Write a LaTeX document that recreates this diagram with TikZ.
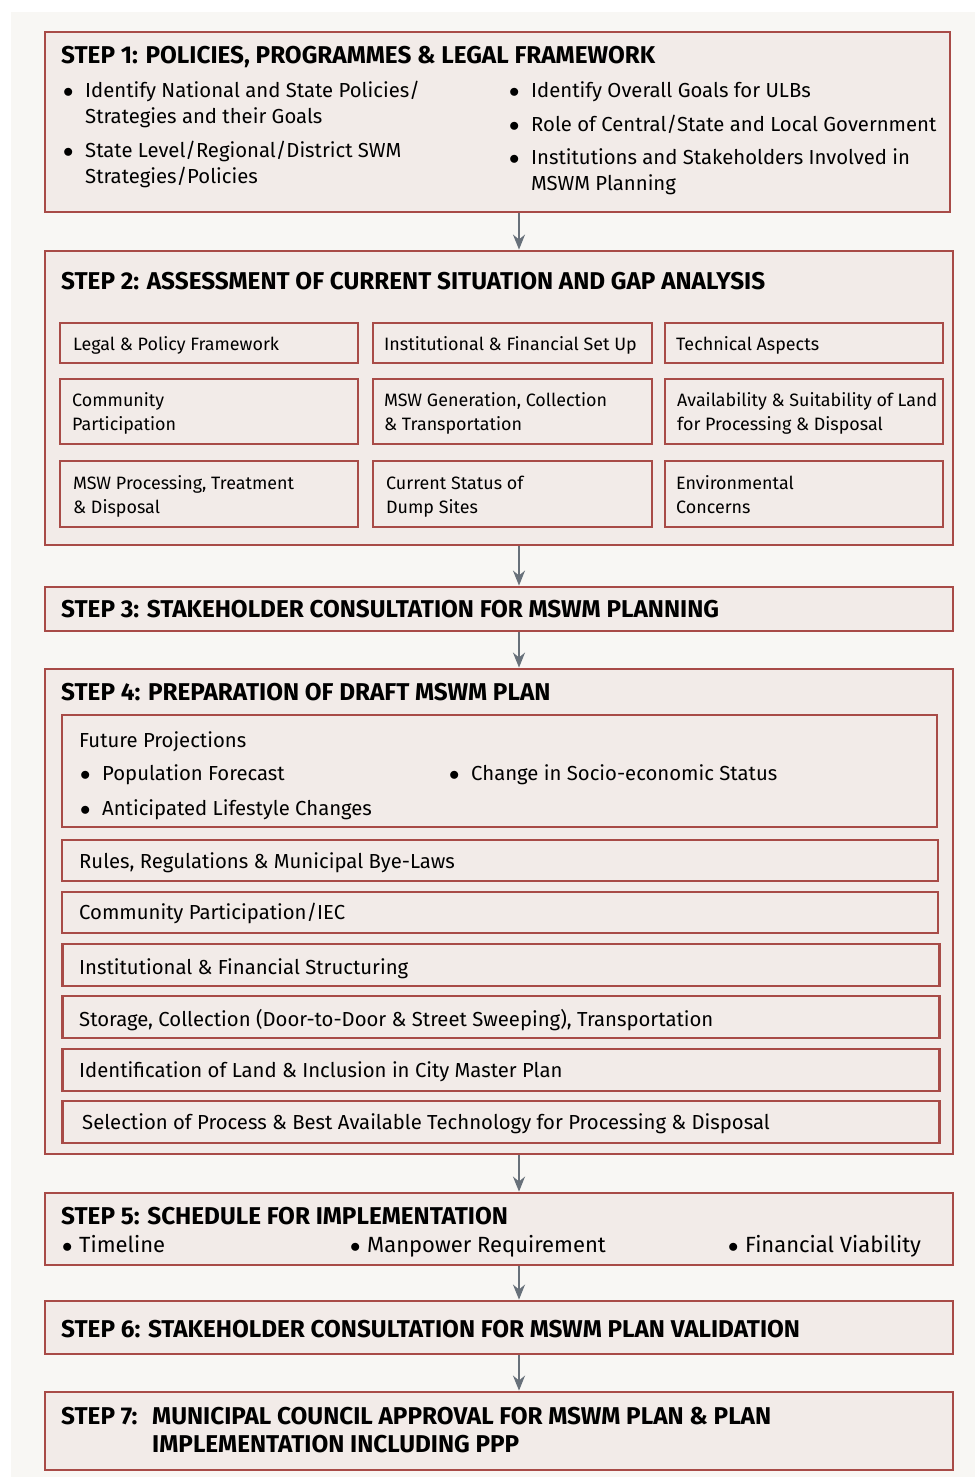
\documentclass[tikz,border=0pt]{standalone}
\usepackage{fontspec}
\setmainfont{Fira Sans}
\usepackage{tikz}
\usetikzlibrary{arrows,arrows.meta,positioning,calc}

\definecolor{boxred}{HTML}{A84B47}
\definecolor{boxfill}{HTML}{F2EBE8}
\definecolor{pagebg}{HTML}{F8F7F4}
\definecolor{arrowgray}{HTML}{68717A}

\newcommand{\titlefont}{\fontsize{24.3}{28}\selectfont\bfseries}
\newcommand{\bodyfont}{\fontsize{20.3}{26}\selectfont}
\newcommand{\cellfont}{\fontsize{17.9}{24}\selectfont}
\newcommand{\schedfont}{\fontsize{22}{26}\selectfont}
% bullet with hanging lines
\newcommand{\bul}[1]{\makebox[22pt][l]{$\bullet$}\begin{tabular}[t]{@{}l@{}}#1\end{tabular}}
\newcommand{\sbul}[1]{\makebox[17pt][l]{$\bullet$}#1}

\begin{document}
\begin{tikzpicture}[
    x=1pt, y=-1pt,
    stepbox/.style={rectangle, draw=boxred, fill=boxfill, line width=2.8pt, inner sep=0pt},
    cell/.style={rectangle, draw=boxred, line width=2.8pt, inner sep=0pt},
    steptitle/.style={anchor=base west, inner sep=0pt, font=\titlefont},
    item/.style={anchor=base west, inner sep=0pt, font=\bodyfont, align=left},
    celltext/.style={anchor=base west, inner sep=0pt, font=\cellfont, align=left},
    arrow/.style={-{Stealth[length=15pt,width=12pt]}, line width=2pt, draw=arrowgray, fill=arrowgray}
]
    \useasboundingbox (0,0) rectangle (975,1479);
    \fill[pagebg] (11,12) rectangle (975,1477);
    \coordinate (ax) at (519,0);

    % Step 1
    \node[stepbox, minimum width=905pt, minimum height=180pt] (s1) at (497.5,122) {};
    \node[steptitle] (t1) at (61,64) {STEP 1: POLICIES, PROGRAMMES \& LEGAL FRAMEWORK};
    \node[item] (s1a) at (63,98) {\bul{Identify National and State Policies/\\Strategies and their Goals}};
    \node[item] (s1b) at (63,158) {\bul{State Level/Regional/District SWM\\Strategies/Policies}};
    \node[item] (s1c) at (509,98) {\bul{Identify Overall Goals for ULBs}};
    \node[item] (s1d) at (509,132) {\bul{Role of Central/State and Local Government}};
    \node[item] (s1e) at (509,165) {\bul{Institutions and Stakeholders Involved in\\MSWM Planning}};

    % Step 2
    \node[stepbox, minimum width=908pt, minimum height=294pt] (s2) at (499,398) {};
    \node[steptitle] (t2) at (61,289) {STEP 2: ASSESSMENT OF CURRENT SITUATION AND GAP ANALYSIS};
    \node[cell, minimum width=298pt, minimum height=40pt] (c11) at (209,343) {};
    \node[cell, minimum width=279pt, minimum height=40pt] (c12) at (512.5,343) {};
    \node[cell, minimum width=278pt, minimum height=40pt] (c13) at (804,343) {};
    \node[cell, minimum width=298pt, minimum height=65pt] (c21) at (209,411.5) {};
    \node[cell, minimum width=279pt, minimum height=65pt] (c22) at (512.5,411.5) {};
    \node[cell, minimum width=278pt, minimum height=65pt] (c23) at (804,411.5) {};
    \node[cell, minimum width=298pt, minimum height=66pt] (c31) at (209,494) {};
    \node[cell, minimum width=279pt, minimum height=66pt] (c32) at (512.5,494) {};
    \node[cell, minimum width=278pt, minimum height=66pt] (c33) at (804,494) {};
    % text sits on the baseline of its last line
    \node[celltext] (c11t) at (73,350) {Legal \& Policy Framework};
    \node[celltext] (c12t) at (384,350) {Institutional \& Financial Set Up};
    \node[celltext] (c13t) at (676,350) {Technical Aspects};
    \node[celltext] (c21t) at (72,430) {Community\\Participation};
    \node[celltext] (c22t) at (384,430) {MSW Generation, Collection\\\& Transportation};
    \node[celltext] (c23t) at (677,430) {Availability \& Suitability of Land\\for Processing \& Disposal};
    \node[celltext] (c31t) at (73,513) {MSW Processing, Treatment\\\& Disposal};
    \node[celltext] (c32t) at (386,513) {Current Status of\\Dump Sites};
    \node[celltext] (c33t) at (676,513) {Environmental\\Concerns};

    % Step 3
    \node[stepbox, minimum width=908pt, minimum height=44pt] (s3) at (499,609) {};
    \node[steptitle] (t3) at (61,617) {STEP 3: STAKEHOLDER CONSULTATION FOR MSWM PLANNING};

    % Step 4
    \node[stepbox, minimum width=908pt, minimum height=485pt] (s4) at (499,911.5) {};
    \node[steptitle] (t4) at (61,700) {STEP 4: PREPARATION OF DRAFT MSWM PLAN};
    \node[cell, minimum width=875pt, minimum height=112pt] (fp) at (499.5,771) {};
    \node[item] (fpt) at (79,747) {Future Projections};
    \node[item] (fpa) at (80,780) {\bul{Population Forecast}};
    \node[item] (fpb) at (80,815) {\bul{Anticipated Lifestyle Changes}};
    \node[item] (fpc) at (449,780) {\bul{Change in Socio-economic Status}};
    \node[cell, minimum width=876pt, minimum height=41pt] (r1) at (500,860.5) {};
    \node[cell, minimum width=876pt, minimum height=41pt] (r2) at (500,912.5) {};
    \node[cell, minimum width=877pt, minimum height=42pt] (r3) at (501,965) {};
    \node[cell, minimum width=877pt, minimum height=42pt] (r4) at (501,1017) {};
    \node[cell, minimum width=877pt, minimum height=42pt] (r5) at (501,1070) {};
    \node[cell, minimum width=877pt, minimum height=42pt] (r6) at (501,1122) {};
    \node[item] (r1t) at (79,868) {Rules, Regulations \& Municipal Bye-Laws};
    \node[item] (r2t) at (79,919) {Community Participation/IEC};
    \node[item] (r3t) at (79,974) {Institutional \& Financial Structuring};
    \node[item] (r4t) at (79,1026) {Storage, Collection (Door-to-Door \& Street Sweeping), Transportation};
    \node[item] (r5t) at (79,1077) {Identification of Land \& Inclusion in City Master Plan};
    \node[item] (r6t) at (82,1129) {Selection of Process \& Best Available Technology for Processing \& Disposal};

    % Step 5
    \node[stepbox, minimum width=908pt, minimum height=72pt] (s5) at (499,1229) {};
    \node[steptitle] (t5) at (61,1224) {STEP 5: SCHEDULE FOR IMPLEMENTATION};
    \node[item, font=\schedfont] (s5a) at (62,1252) {\sbul{Timeline}};
    \node[item, font=\schedfont] (s5b) at (350,1252) {\sbul{Manpower Requirement}};
    \node[item, font=\schedfont] (s5c) at (728,1252) {\sbul{Financial Viability}};

    % Step 6
    \node[stepbox, minimum width=908pt, minimum height=53pt] (s6) at (499,1327.5) {};
    \node[steptitle] (t6) at (61,1337) {STEP 6: STAKEHOLDER CONSULTATION FOR MSWM PLAN VALIDATION};

    % Step 7
    \node[stepbox, minimum width=908pt, minimum height=78pt] (s7) at (499,1431) {};
    \node[steptitle] (t7) at (61,1424) {STEP 7:};
    \node[steptitle, align=left] (t7b) at (152,1452) {MUNICIPAL COUNCIL APPROVAL FOR MSWM PLAN \& PLAN\\IMPLEMENTATION INCLUDING PPP};

    % Arrows
    \draw[arrow] (s1.south -| ax) -- (s2.north -| ax);
    \draw[arrow] (s2.south -| ax) -- (s3.north -| ax);
    \draw[arrow] (s3.south -| ax) -- (s4.north -| ax);
    \draw[arrow] (s4.south -| ax) -- (s5.north -| ax);
    \draw[arrow] (s5.south -| ax) -- (s6.north -| ax);
    \draw[arrow] (s6.south -| ax) -- (s7.north -| ax);
\end{tikzpicture}
\end{document}
